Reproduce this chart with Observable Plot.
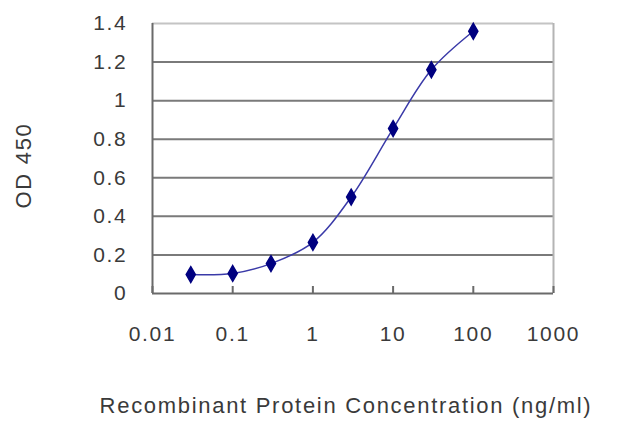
<!DOCTYPE html>
<html>
<head>
<meta charset="utf-8">
<script src="https://cdn.jsdelivr.net/npm/d3@7"></script>
<script src="https://cdn.jsdelivr.net/npm/@observablehq/plot@0.6"></script>
<style>
  html, body { margin: 0; padding: 0; background: #fff; }
</style>
</head>
<body>
<div id="chart"></div>
<script>
// Data
const concentration = [0.03, 0.1, 0.3, 1, 3, 10, 30, 100];
const od450 = [0.098, 0.104, 0.155, 0.265, 0.50, 0.855, 1.16, 1.36];
const xTicks = [0.01, 0.1, 1, 10, 100, 1000];
const xTickLabels = ["0.01", "0.1", "1", "10", "100", "1000"];
const yTicks = [0, 0.2, 0.4, 0.6, 0.8, 1, 1.2, 1.4];
const gridLines = [0.2, 0.4, 0.6, 0.8, 1, 1.2];
const xTitle = "Recombinant Protein Concentration (ng/ml)";
const yTitle = "OD 450";

const points = concentration.map((c, i) => ({x: c, y: od450[i]}));
const xLabelMap = new Map(xTicks.map((t, i) => [t, xTickLabels[i]]));

const chart = Plot.plot({
  width: 640,
  height: 427,
  marginLeft: 152,
  marginRight: 87,
  marginTop: 23,
  marginBottom: 134,
  style: {fontFamily: "'Liberation Sans', Arial, sans-serif", fontSize: "21px", color: "#3a3a3a", letterSpacing: "1.7px", background: "#fff"},
  x: {type: "log", domain: [0.01, 1000]},
  y: {domain: [0, 1.4]},
  marks: [
    Plot.ruleY(gridLines, {stroke: "#7a7a7a", strokeWidth: 2}),
    Plot.ruleY([1.4], {stroke: "#c4c4c4", strokeWidth: 2}),
    Plot.ruleX([1000], {stroke: "#b4b4b4", strokeWidth: 2}),
    Plot.ruleX([0.01], {stroke: "#6a6a6a", strokeWidth: 2}),
    Plot.ruleY([0], {stroke: "#6a6a6a", strokeWidth: 2}),
    Plot.tickX(xTicks, {x: d => d, stroke: "#6a6a6a", strokeWidth: 2, insetTop: 263}),
    Plot.axisX(xTicks, {
      tickSize: 0, tickPadding: 33,
      tickFormat: d => xLabelMap.get(d) ?? String(d),
      label: null
    }),
    Plot.axisY(yTicks, {
      tickSize: 0, tickPadding: 25,
      tickFormat: d => String(d),
      label: null
    }),
    Plot.text([xTitle], {frameAnchor: "bottom", dx: -7, dy: 119, fontSize: 22, fill: "#3a3a3a"}),
    Plot.text([yTitle], {frameAnchor: "left", textAnchor: "middle", dx: -129, dy: 7, rotate: -90, fontSize: 22, fill: "#3a3a3a", letterSpacing: "4.5px"}),
    Plot.line(points, {x: "x", y: "y", curve: "catmull-rom", stroke: "#3a3aa8", strokeWidth: 1.5}),
    Plot.dot(points, {x: "x", y: "y", symbol: "diamond", r: 4.8, fill: "#000080", stroke: "#000080"})
  ]
});
document.getElementById("chart").appendChild(chart);
</script>
</body>
</html>
